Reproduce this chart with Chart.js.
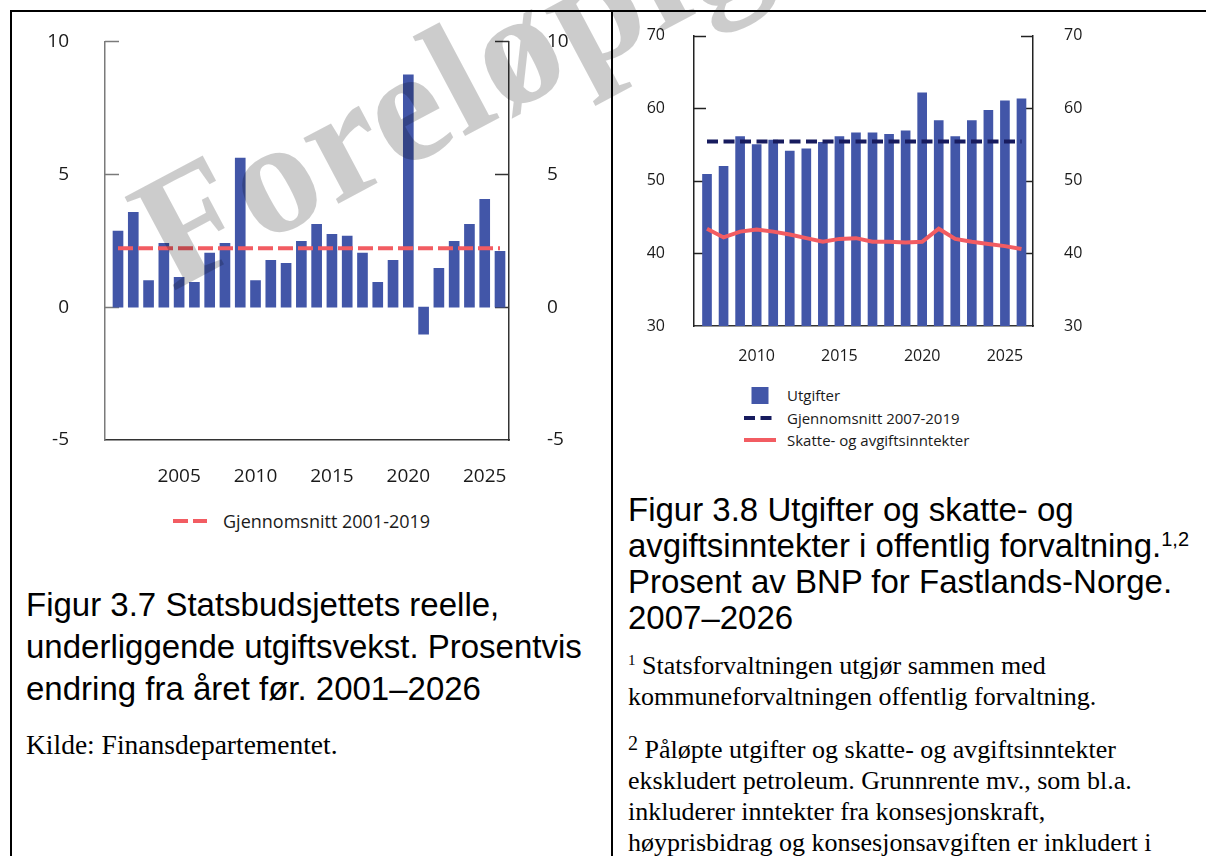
<!DOCTYPE html>
<html>
<head>
<meta charset="utf-8">
<script src="https://cdn.jsdelivr.net/npm/chart.js@4"></script>
<style>
  body { margin:0; background:#fff; width:1206px; height:856px; position:relative; overflow:hidden; }
  .abs { position:absolute; }
  .line { position:absolute; background:#000; }
  .cap { position:absolute; font-family:"Liberation Sans", Arial, sans-serif; font-size:33px; color:#000; white-space:nowrap; }
  .note { position:absolute; font-family:"Liberation Serif", "Times New Roman", serif; font-size:26px; color:#000; white-space:nowrap; line-height:31px; }
  .leg { position:absolute; font-family:"Open Sans", sans-serif; color:#1a1a1a; white-space:nowrap; }
  .row { display:flex; align-items:center; }
</style>
</head>
<body>
<canvas id="c37" class="abs" width="606" height="508" style="left:0;top:-8px"></canvas>
<canvas id="c38" class="abs" width="592" height="377" style="left:614px;top:-5px"></canvas>

<div class="line" style="left:10px;top:10px;width:1196px;height:2px"></div>
<div class="line" style="left:10px;top:10px;width:2px;height:846px"></div>
<div class="line" style="left:611px;top:10px;width:2px;height:846px"></div>

<div id="leg37" class="leg" style="left:173px;top:510px;font-size:18px"></div>
<div id="leg38" class="leg" style="left:744px;top:384px;font-size:15px"></div>

<div class="cap" style="left:26px;top:584px;line-height:42px">Figur 3.7 Statsbudsjettets reelle,<br>underliggende utgiftsvekst. Prosentvis<br>endring fra året før. 2001–2026</div>
<div class="note" style="left:26px;top:729px;font-size:27.5px">Kilde: Finansdepartementet.</div>

<div class="cap" style="left:628px;top:492px;line-height:36px">Figur 3.8 Utgifter og skatte- og<br>avgiftsinntekter i offentlig forvaltning.<sup style="font-size:20px;vertical-align:11px;line-height:0">1,2</sup><br>Prosent av BNP for Fastlands-Norge.<br>2007–2026</div>
<div class="note" style="left:628px;top:650px"><sup style="font-size:15px;vertical-align:9px;line-height:0">1</sup> Statsforvaltningen utgjør sammen med<br>kommuneforvaltningen offentlig forvaltning.</div>
<div class="note" style="left:628px;top:734px"><sup style="font-size:20px;vertical-align:8px;line-height:0">2</sup> Påløpte utgifter og skatte- og avgiftsinntekter<br>ekskludert petroleum. Grunnrente mv., som bl.a.<br>inkluderer inntekter fra konsesjonskraft,<br>høyprisbidrag og konsesjonsavgiften er inkludert i</div>

<canvas id="wm" class="abs" width="1206" height="856" style="left:0;top:0;pointer-events:none"></canvas>

<script>
// Figur 3.7 - real underlying spending growth, percent
const years37 = [2001, 2002, 2003, 2004, 2005, 2006, 2007, 2008, 2009, 2010, 2011, 2012, 2013,
                 2014, 2015, 2016, 2017, 2018, 2019, 2020, 2021, 2022, 2023, 2024, 2025, 2026];
const growth37 = [2.86, 3.57, 1.0, 2.4, 1.12, 0.93, 2.03, 2.4, 5.61, 1.0, 1.76, 1.65, 2.48,
                  3.12, 2.74, 2.67, 2.03, 0.93, 1.76, 8.74, -1.02, 1.46, 2.48, 3.12, 4.06, 2.1];
const avg37 = 2.22;
const yTicks37 = [-5, 0, 5, 10];
const xTicks37 = [2005, 2010, 2015, 2020, 2025];

// Figur 3.8 - percent of mainland GDP
const years38 = [2007, 2008, 2009, 2010, 2011, 2012, 2013, 2014, 2015, 2016,
                 2017, 2018, 2019, 2020, 2021, 2022, 2023, 2024, 2025, 2026];
const utgifter = [50.9, 52.0, 56.1, 55.0, 55.6, 54.1, 54.4, 55.3, 56.1, 56.6,
                  56.6, 56.4, 56.9, 62.1, 58.3, 56.1, 58.3, 59.7, 61.0, 61.3];
const skatter = [43.4, 42.2, 43.0, 43.3, 43.0, 42.6, 42.1, 41.6, 42.0, 42.1,
                 41.6, 41.6, 41.5, 41.6, 43.4, 42.0, 41.6, 41.3, 41.0, 40.6];
const avg38 = 55.4;
const yTicks38 = [30, 40, 50, 60, 70];
const xTicks38 = [2010, 2015, 2020, 2025];

const BLUE = '#4256a8', RED = '#f25c62', NAVY = '#171b5e';

Chart.defaults.font.family = "'Open Sans', sans-serif";
Chart.defaults.color = '#1a1a1a';
Chart.defaults.animation = false;

// tick marks pointing into the plot, like the original
const innerTicks = {
  id: 'innerTicks',
  beforeDatasetsDraw(chart, args, opts) {
    const {ctx, chartArea: a} = chart;
    ['y', 'y2'].forEach(id => {
      const s = chart.scales[id];
      ctx.save();
      ctx.strokeStyle = s.options.border.color;
      ctx.lineWidth = 1.5;
      s.ticks.forEach(t => {
        if (t.value === s.min) return;
        const y = Math.round(s.getPixelForValue(t.value)) + 0.5;
        ctx.beginPath();
        if (s.position === 'left') { ctx.moveTo(a.left, y); ctx.lineTo(a.left + opts.len, y); }
        else { ctx.moveTo(a.right, y); ctx.lineTo(a.right - opts.len, y); }
        ctx.stroke();
      });
      ctx.restore();
    });
  }
};

function yAxis(pos, min, max, ticks, width, pad, size, color) {
  return {
    position: pos, min: min, max: max,
    afterBuildTicks: s => { s.ticks = ticks.map(v => ({value: v})); },
    afterFit: s => { s.width = width; },
    grid: {display: false, drawTicks: false},
    border: {display: true, color: color, width: 1.5},
    ticks: {padding: pad, font: {size: size}, color: '#1a1a1a'}
  };
}

function xAxis(min, max, ticks, height, pad, size) {
  return {
    type: 'linear', min: min, max: max, offset: false, bounds: 'data',
    afterBuildTicks: s => { s.ticks = ticks.map(v => ({value: v})); },
    afterFit: s => { s.height = height; },
    grid: {display: false, drawTicks: false, offset: false},
    border: {display: true, color: '#333', width: 1.5},
    ticks: {autoSkip: false, maxRotation: 0, padding: pad, font: {size: size}, color: '#1a1a1a', callback: v => String(v)}
  };
}

const chart37 = new Chart(document.getElementById('c37'), {
  type: 'bar',
  data: {
    datasets: [
      {
        label: 'Utgiftsvekst',
        data: years37.map((x, i) => ({x: x, y: growth37[i]})),
        backgroundColor: BLUE,
        barThickness: 10,
        order: 2
      },
      {
        type: 'line',
        label: 'Gjennomsnitt 2001-2019',
        data: [{x: years37[0], y: avg37}, {x: years37[years37.length - 1], y: avg37}],
        borderColor: RED,
        borderWidth: 4,
        borderDash: [15, 5],
        pointRadius: 0,
        order: 1
      }
    ]
  },
  options: {
    responsive: false,
    layout: {padding: 0},
    plugins: {legend: {display: false}, tooltip: {enabled: false}, innerTicks: {len: 14}},
    scales: {
      x: xAxis(2000.149, 2026.589, xTicks37, 60, 25, 19),
      y: yAxis('left', -5, 10, yTicks37, 105, 36, 19, '#7a7a7a'),
      y2: yAxis('right', -5, 10, yTicks37, 97, 38, 19, '#333')
    }
  },
  plugins: [innerTicks]
});

const chart38 = new Chart(document.getElementById('c38'), {
  type: 'bar',
  data: {
    datasets: [
      {
        label: 'Utgifter',
        data: years38.map((x, i) => ({x: x, y: utgifter[i]})),
        backgroundColor: BLUE,
        barThickness: 9,
        order: 3
      },
      {
        type: 'line',
        label: 'Gjennomsnitt 2007-2019',
        data: [{x: years38[0], y: avg38}, {x: years38[years38.length - 1], y: avg38}],
        borderColor: NAVY,
        borderWidth: 4,
        borderDash: [11, 5.5],
        pointRadius: 0,
        order: 1
      },
      {
        type: 'line',
        label: 'Skatte- og avgiftsinntekter',
        data: years38.map((x, i) => ({x: x, y: skatter[i]})),
        borderColor: RED,
        borderWidth: 4,
        pointRadius: 0,
        tension: 0,
        order: 2
      }
    ]
  },
  options: {
    responsive: false,
    layout: {padding: 0},
    plugins: {legend: {display: false}, tooltip: {enabled: false}, innerTicks: {len: 12}},
    scales: {
      x: xAxis(2006.214, 2026.696, xTicks38, 46, 21, 16),
      y: yAxis('left', 30, 70, yTicks38, 80, 29, 16, '#222'),
      y2: yAxis('right', 30, 70, yTicks38, 173, 31, 16, '#222')
    }
  },
  plugins: [innerTicks]
});

// html legends built from the chart datasets
function sample(ds, w) {
  if (ds.type === 'line') {
    const dash = ds.borderDash ? ds.borderDash.join(' ') : 'none';
    return '<svg width="' + w + '" height="8"><line x1="0" y1="4" x2="' + w + '" y2="4" stroke="' + ds.borderColor +
      '" stroke-width="' + ds.borderWidth + '" stroke-dasharray="' + dash + '"/></svg>';
  }
  return '<svg width="' + w + '" height="17"><rect x="' + (w / 2 - 8.5) + '" y="0" width="17" height="17" fill="' + ds.backgroundColor + '"/></svg>';
}

const leg37 = document.getElementById('leg37');
chart37.data.datasets.filter(d => d.type === 'line').forEach(d => {
  leg37.innerHTML += '<div class="row" style="height:22px">' + sample(d, 34) +
    '<span style="margin-left:16px">' + d.label + '</span></div>';
});

const leg38 = document.getElementById('leg38');
chart38.data.datasets.forEach(d => {
  leg38.innerHTML += '<div class="row" style="height:22.5px">' + sample(d, 32) +
    '<span style="margin-left:11px">' + d.label + '</span></div>';
});

// watermark
const wm = document.getElementById('wm').getContext('2d');
wm.save();
wm.translate(172, 292);
wm.rotate(-28 * Math.PI / 180);
wm.font = 'bold 162px "Liberation Serif"';
wm.letterSpacing = '2px';
wm.fillStyle = 'rgba(0,0,0,0.2)';
wm.fillText('Foreløpig', 0, 0);
wm.restore();
</script>
</body>
</html>
